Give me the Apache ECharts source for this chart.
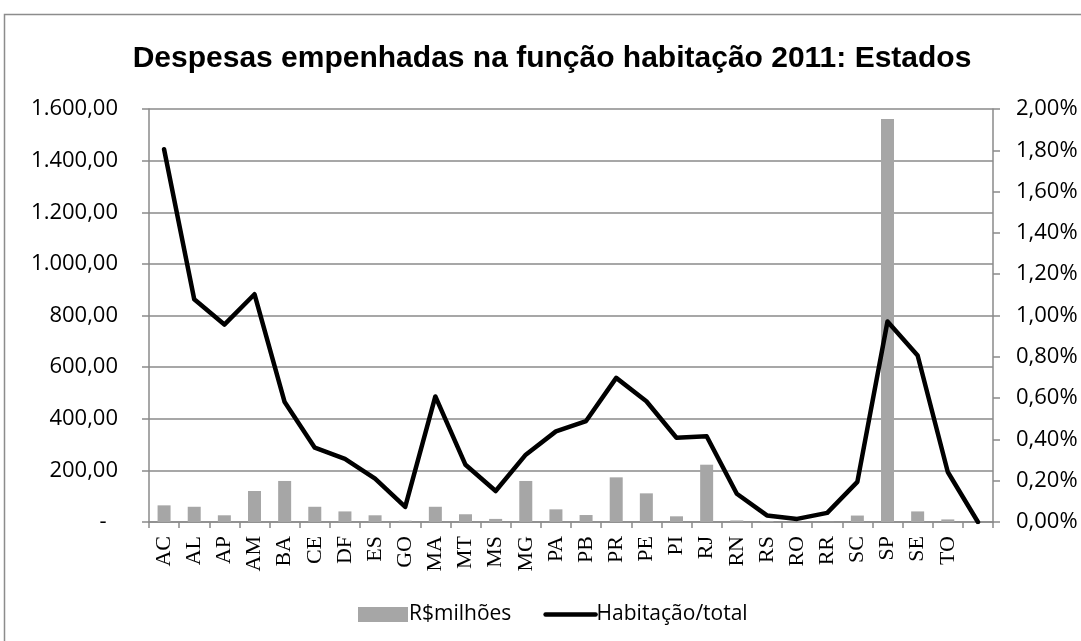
<!DOCTYPE html>
<html>
<head>
<meta charset="utf-8">
<script src="https://cdn.jsdelivr.net/npm/echarts@6/dist/echarts.min.js"></script>
<style>
html,body{margin:0;padding:0;background:#fff;}
#chart{width:1081px;height:641px;}
</style>
</head>
<body>
<div id="chart"></div>
<script>
var titleText = 'Despesas empenhadas na função habitação 2011: Estados';
var categories = ['AC','AL','AP','AM','BA','CE','DF','ES','GO','MA','MT','MS','MG','PA','PB','PR','PE','PI','RJ','RN','RS','RO','RR','SC','SP','SE','TO',''];
var valoresMilhoes = [64.5, 59, 26, 120, 159, 59, 41, 26, 5, 59, 30, 12, 159, 49, 27, 173, 111, 22, 222, 6, 4, 1, 1, 25, 1561, 41, 10, null];
var habitacaoTotalPct = [1.805, 1.079, 0.956, 1.103, 0.581, 0.36, 0.306, 0.21, 0.073, 0.608, 0.277, 0.15, 0.326, 0.439, 0.489, 0.698, 0.585, 0.408, 0.415, 0.137, 0.032, 0.015, 0.044, 0.194, 0.971, 0.806, 0.242, 0];
var seriesNames = ['R$milhões', 'Habitação/total'];

function fmtBR(v) {
  if (v === 0) return '-  ';
  var s = v.toFixed(2).split('.');
  var intPart = s[0].replace(/\B(?=(\d{3})+(?!\d))/g, '.');
  return intPart + ',' + s[1];
}
function fmtPct(v) {
  return v.toFixed(2).replace('.', ',') + '%';
}

var chart = echarts.init(document.getElementById('chart'), null, {renderer: 'canvas'});
var axisGray = '#8a8a8a';
var labelFont = '"Open Sans", sans-serif';

chart.setOption({
  animation: false,
  backgroundColor: '#fff',
  graphic: [{
    type: 'rect',
    shape: {x: 4.5, y: 14.5, width: 1200, height: 800},
    style: {fill: 'none', stroke: '#8c8c8c', lineWidth: 1.5},
    silent: true
  }],
  title: {
    text: titleText,
    left: 552,
    textAlign: 'center',
    top: 44,
    padding: 0,
    textStyle: {fontFamily: '"Liberation Sans", Arial, sans-serif', fontWeight: 'bold', fontSize: 30, color: '#000'}
  },
  legend: {
    left: 353,
    top: 599,
    itemWidth: 50,
    itemHeight: 15,
    itemGap: 32,
    textStyle: {fontFamily: labelFont, fontSize: 21, color: '#000', padding: [0,0,0,-4]},
    data: [
      {name: seriesNames[0], icon: 'rect'},
      {name: seriesNames[1],
       itemStyle: {color: 'rgba(0,0,0,0)', borderColor: 'rgba(0,0,0,0)', borderWidth: 0},
       lineStyle: {color: '#000', width: 4.5, cap: 'round'}}
    ]
  },
  grid: {left: 149, right: 88, top: 109, bottom: 119, containLabel: false},
  xAxis: {
    type: 'category',
    data: categories,
    boundaryGap: true,
    axisLine: {show: true, lineStyle: {color: axisGray, width: 1.5}},
    axisTick: {show: true, length: 6, lineStyle: {color: axisGray, width: 1.5}},
    axisLabel: {
      rotate: 90,
      interval: 0,
      margin: 14,
      fontFamily: '"Liberation Serif", "Times New Roman", serif',
      fontSize: 22,
      color: '#000'
    }
  },
  yAxis: [{
    type: 'value',
    min: 0, max: 1600, interval: 200,
    position: 'left',
    axisLine: {show: true, lineStyle: {color: axisGray, width: 1.5}},
    axisTick: {show: true, length: 7, lineStyle: {color: axisGray, width: 1.5}},
    splitLine: {show: true, lineStyle: {color: axisGray, width: 1.5}},
    axisLabel: {formatter: fmtBR, margin: 31, fontFamily: labelFont, fontSize: 22, color: '#000'}
  }, {
    type: 'value',
    min: 0, max: 2, interval: 0.2,
    position: 'right',
    axisLine: {show: true, lineStyle: {color: axisGray, width: 1.5}},
    axisTick: {show: true, length: 7, lineStyle: {color: axisGray, width: 1.5}},
    splitLine: {show: false},
    axisLabel: {formatter: fmtPct, margin: 23, fontFamily: labelFont, fontSize: 22, color: '#000'}
  }],
  series: [{
    name: seriesNames[0],
    type: 'bar',
    data: valoresMilhoes,
    barWidth: 13,
    itemStyle: {color: '#a6a6a6'},
    z: 2
  }, {
    name: seriesNames[1],
    type: 'line',
    yAxisIndex: 1,
    data: habitacaoTotalPct,
    symbol: 'none',
    showSymbol: false,
    lineStyle: {color: '#000', width: 4.5, join: 'round', cap: 'round'},
    itemStyle: {color: '#000'},
    z: 3
  }]
});
</script>
</body>
</html>
